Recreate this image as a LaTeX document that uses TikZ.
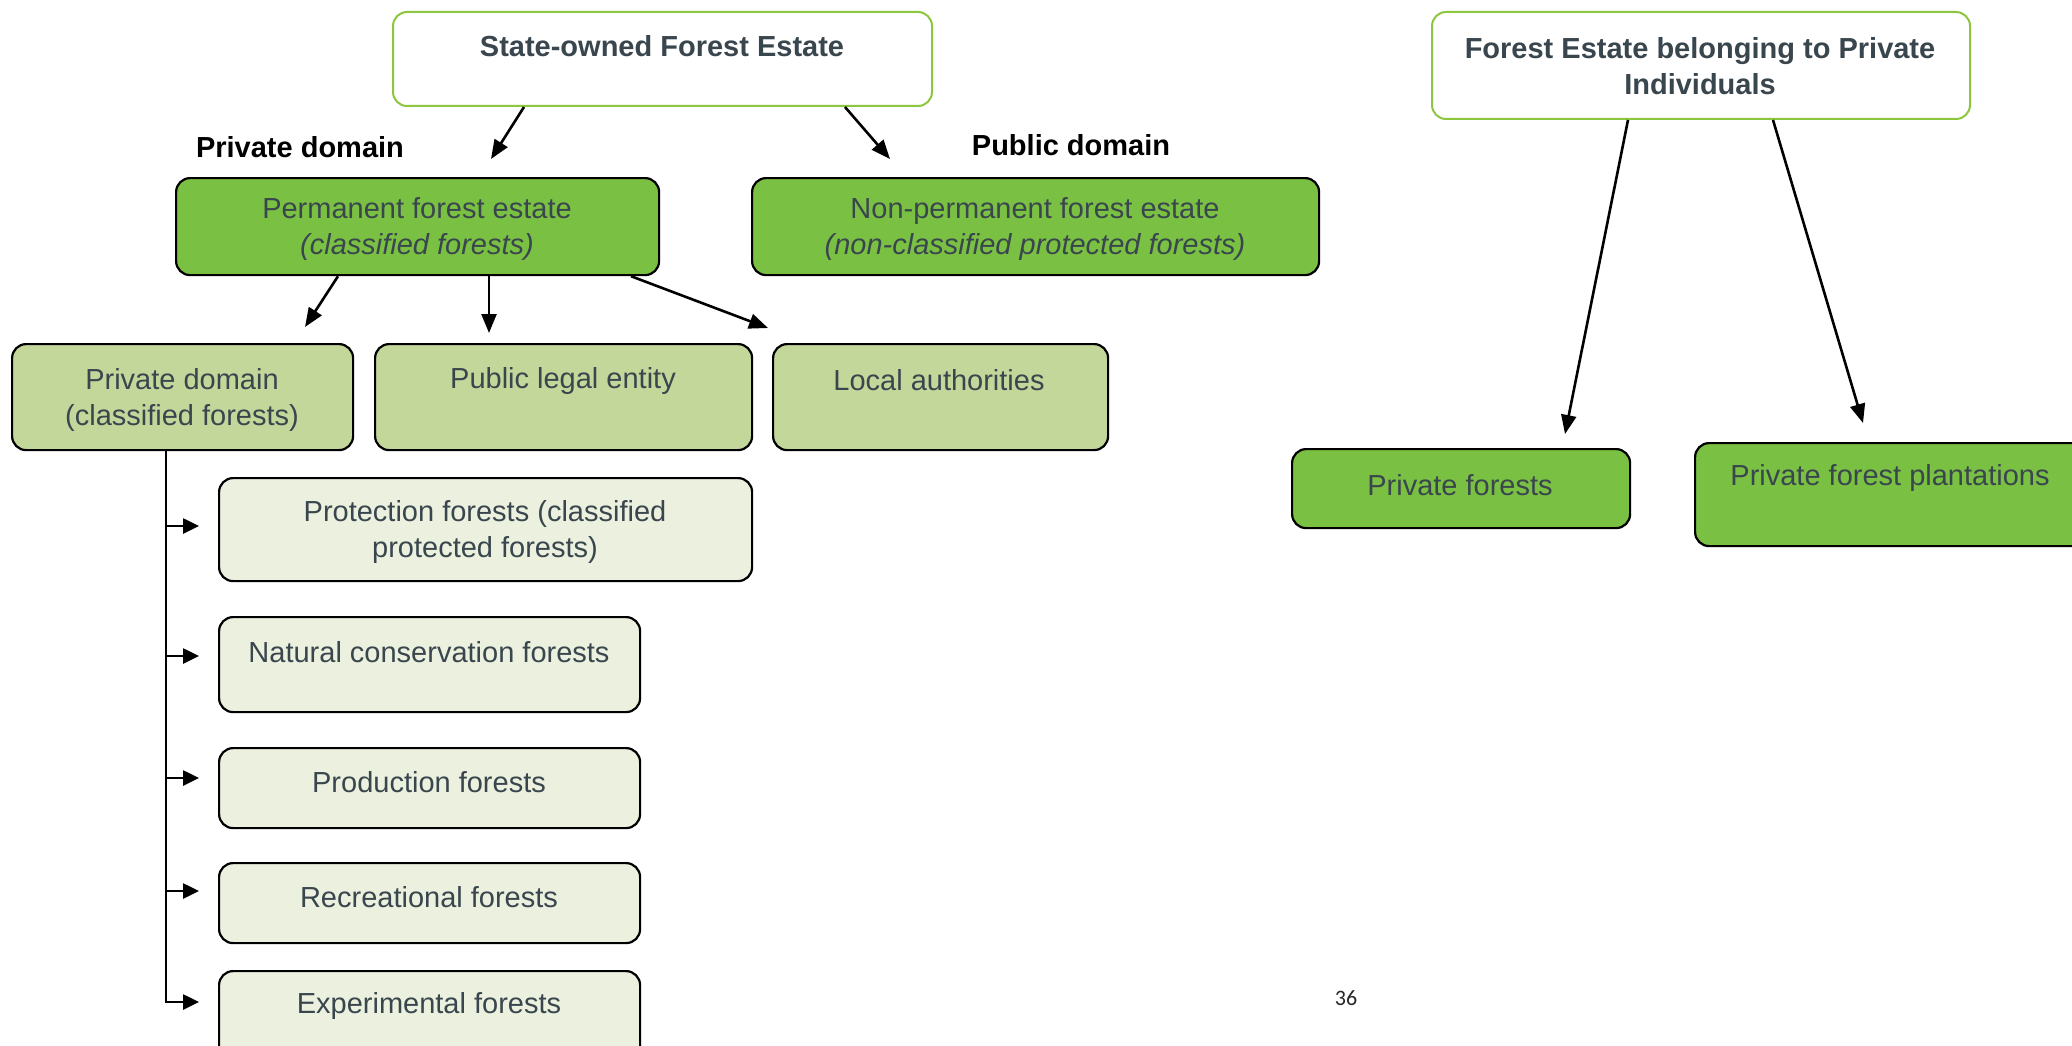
\documentclass[tikz,border=0pt]{standalone}
\usepackage{fontspec}
\setmainfont{Liberation Sans}
\newfontfamily\pagenumfont{Carlito}
\usetikzlibrary{arrows.meta,calc}
\definecolor{dkgreen}{HTML}{7AC143}
\definecolor{mdgreen}{HTML}{C4D79B}
\definecolor{ltgreen}{HTML}{EBF1DE}
\definecolor{bordergreen}{HTML}{8DC63F}
\definecolor{txtgray}{HTML}{3A464E}
\begin{document}
\begin{tikzpicture}[x=1pt,y=-1pt,
  box/.style={draw=black, line width=2.2pt, rounded corners=14pt, inner sep=0pt, anchor=north west},
  topbox/.style={draw=bordergreen, line width=2pt, fill=white, rounded corners=14pt, inner sep=0pt, anchor=north west},
  lbl/.style={font=\fontsize{29}{36}\selectfont, text=txtgray, align=center, inner sep=0pt},
  blbl/.style={font=\fontsize{29}{36}\selectfont\bfseries, text=txtgray, align=center, inner sep=0pt},
  domlbl/.style={font=\fontsize{29}{36}\selectfont\bfseries, text=black, inner sep=0pt},
  conn/.style={draw=black, line width=2.6pt, -{Triangle[length=19pt,width=15pt]}},
  treeline/.style={draw=black, line width=2.4pt},
  treearrow/.style={draw=black, line width=2.6pt, -{Triangle[length=16pt,width=15pt]}}
]
\useasboundingbox (0,0) rectangle (2072,1046);
\fill[white] (0,0) rectangle (2072,1046);

% top boxes
\node[topbox, minimum width=539pt, minimum height=94pt] (state) at (392,11) {};
\node[topbox, minimum width=538pt, minimum height=107pt] (privind) at (1431,11) {};

% second level
\node[box, fill=dkgreen, minimum width=483pt, minimum height=97pt] (perm) at (175,177) {};
\node[box, fill=dkgreen, minimum width=567pt, minimum height=97pt] (nonperm) at (751,177) {};

% third level
\node[box, fill=mdgreen, minimum width=341pt, minimum height=106pt] (pdc) at (11,343) {};
\node[box, fill=mdgreen, minimum width=377pt, minimum height=106pt] (ple) at (374,343) {};
\node[box, fill=mdgreen, minimum width=335pt, minimum height=106pt] (loc) at (772,343) {};

% tree boxes
\node[box, fill=ltgreen, minimum width=533pt, minimum height=103pt] (prot) at (218,477) {};
\node[box, fill=ltgreen, minimum width=421pt, minimum height=95pt] (nat) at (218,616) {};
\node[box, fill=ltgreen, minimum width=421pt, minimum height=80pt] (prod) at (218,747) {};
\node[box, fill=ltgreen, minimum width=421pt, minimum height=80pt] (rec) at (218,862) {};
\node[box, fill=ltgreen, minimum width=421pt, minimum height=110pt] (expf) at (218,970) {};

% private boxes
\node[box, fill=dkgreen, minimum width=338pt, minimum height=79pt] (pf) at (1291,448) {};
\node[box, fill=dkgreen, minimum width=420pt, minimum height=103pt] (pfp) at (1694,442) {};

% texts
\node[blbl] (tstate) at (662,46) {State-owned Forest Estate};
\node[blbl] (tprivind) at (1700,66) {Forest Estate belonging to Private\\Individuals};
\node[domlbl] (lprivdom) at (300,147) {Private domain};
\node[domlbl] (lpubdom) at (1071,145) {Public domain};
\node[lbl] (tperm) at (417,229) {Permanent forest estate\\\itshape(classified forests)};
\node[lbl] (tnonperm) at (1035,229) {Non-permanent forest estate\\\itshape(non-classified protected forests)};
\node[lbl] (tpdc) at (182,400) {Private domain\\(classified forests)};
\node[lbl] (tple) at (563,381) {Public legal entity};
\node[lbl] (tloc) at (939,380) {Local authorities};
\node[lbl] (tprot) at (485,532) {Protection forests (classified\\protected forests)};
\node[lbl] (tnat) at (429,652) {Natural conservation forests};
\node[lbl] (tprod) at (429,782) {Production forests};
\node[lbl] (trec) at (429,897) {Recreational forests};
\node[lbl] (texp) at (429,1006) {Experimental forests};
\node[lbl] (tpf) at (1460,485) {Private forests};
\node[lbl] (tpfp) at (1890,478) {Private forest plantations};
\node[font=\pagenumfont\fontsize{22}{26}\selectfont, text=black!85, inner sep=0pt] (pagenum) at (1346,998) {36};

% arrow tip coordinates
\coordinate (a1) at (491,159);
\coordinate (a2) at (890,159);
\coordinate (a3) at (305,327);
\coordinate (a4) at (489,333);
\coordinate (a5) at (768,328);
\coordinate (a6) at (1565,434);
\coordinate (a7) at (1863,423);

\draw[conn] ([xshift=132pt]state.south west) -- (a1);
\draw[conn] ([xshift=453pt]state.south west) -- (a2);
\draw[conn] ([xshift=163pt]perm.south west) -- (a3);
\draw[conn] ([xshift=314pt]perm.south west) -- (a4);
\draw[conn] ([xshift=456pt]perm.south west) -- (a5);
\draw[conn] ([xshift=197pt]privind.south west) -- (a6);
\draw[conn] ([xshift=342pt]privind.south west) -- (a7);

% tree
\coordinate (trunk) at ([xshift=155pt]pdc.south west);
\coordinate (t1) at (199,526);
\coordinate (t2) at (199,656);
\coordinate (t3) at (199,778);
\coordinate (t4) at (199,891);
\coordinate (t5) at (199,1002);
\draw[treeline] (trunk) |- (t5 -| trunk) -- ([xshift=-16pt]t5);
\draw[treearrow] (t5 -| trunk) -- (t5);
\foreach \t in {t1,t2,t3,t4} \draw[treearrow] (trunk |- \t) -- (\t);
\end{tikzpicture}
\end{document}
